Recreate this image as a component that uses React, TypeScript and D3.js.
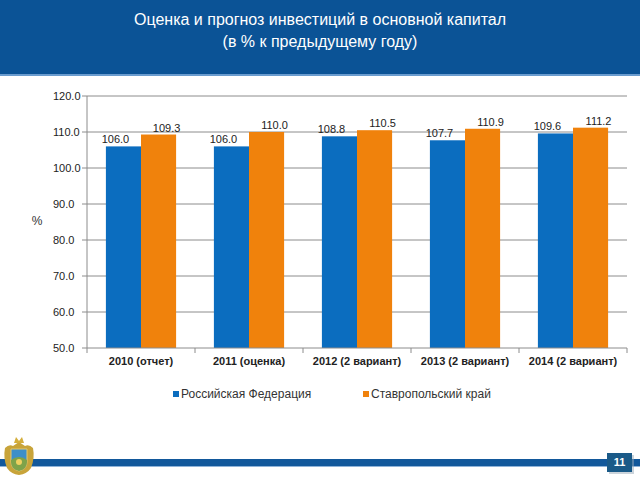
import { useEffect, useRef } from 'react'
import * as d3 from 'd3'

const titleLines = ['Оценка и прогноз инвестиций в основной капитал', '(в % к предыдущему году)']
const categories = ['2010 (отчет)', '2011 (оценка)', '2012 (2 вариант)', '2013 (2 вариант)', '2014 (2 вариант)']
const seriesNames = ['Российская Федерация', 'Ставропольский край']
const russiaValues = [106.0, 106.0, 108.8, 107.7, 109.6]
const stavropolValues = [109.3, 110.0, 110.5, 110.9, 111.2]
const yTicks = [50, 60, 70, 80, 90, 100, 110, 120]
const yUnit = '%'
const pageNumber = '11'

const FONT = '"Liberation Sans", Arial, sans-serif'
const colors = ['#0b6dbf', '#f0820c']

export default function App() {
  const svgRef = useRef<SVGSVGElement>(null)

  useEffect(() => {
    if (!svgRef.current) return
    document.body.style.margin = '0'

    const width = 640
    const height = 480
    const svg = d3.select(svgRef.current)
    svg.selectAll('*').remove()
    svg.attr('width', width).attr('height', height).style('font-family', FONT)

    svg.append('rect').attr('width', width).attr('height', height).attr('fill', '#ffffff')

    // header band
    svg.append('rect').attr('x', 0).attr('y', 0).attr('width', width).attr('height', 74).attr('fill', '#0b5396')
    svg.append('rect').attr('x', 0).attr('y', 74).attr('width', width).attr('height', 2).attr('fill', '#6a9ccf')

    svg.append('g')
      .selectAll('text')
      .data(titleLines)
      .enter().append('text')
      .attr('x', 320)
      .attr('y', (d, i) => 25 + i * 22)
      .attr('text-anchor', 'middle')
      .style('font-size', '16px')
      .style('fill', '#ffffff')
      .text(d => d)

    // chart
    const left = 87
    const right = 627
    const top = 96
    const bottom = 348

    const y = d3.scaleLinear().domain([50, 120]).range([bottom, top])
    const x0 = d3.scaleBand<string>()
      .domain(categories)
      .range([left, right])
      .paddingInner(0.35)
      .paddingOuter(0.175)
    const x1 = d3.scaleBand<string>()
      .domain(seriesNames)
      .range([0, x0.bandwidth()])
    const step = x0.step()

    const g = svg.append('g')

    // gridlines
    g.selectAll('.grid')
      .data(yTicks.filter(t => t > 50))
      .enter().append('line')
      .attr('class', 'grid')
      .attr('x1', left)
      .attr('x2', right)
      .attr('y1', d => y(d))
      .attr('y2', d => y(d))
      .style('stroke', '#8c8c8c')
      .style('stroke-width', 1)

    // y axis line + ticks
    g.append('line')
      .attr('x1', left).attr('x2', left)
      .attr('y1', top).attr('y2', bottom)
      .style('stroke', '#8c8c8c')
    g.selectAll('.ytick')
      .data(yTicks)
      .enter().append('line')
      .attr('x1', left - 5).attr('x2', left)
      .attr('y1', d => y(d)).attr('y2', d => y(d))
      .style('stroke', '#8c8c8c')
    g.selectAll('.ylabel')
      .data(yTicks)
      .enter().append('text')
      .attr('x', 53)
      .attr('y', d => y(d))
      .attr('dy', '0.35em')
      .style('font-size', '11px')
      .style('fill', '#222222')
      .text(d => d.toFixed(1))

    g.append('text')
      .attr('x', 37)
      .attr('y', 221)
      .attr('dy', '0.35em')
      .attr('text-anchor', 'middle')
      .style('font-size', '12px')
      .style('fill', '#333333')
      .text(yUnit)

    // bars
    const seriesValues = [russiaValues, stavropolValues]
    seriesNames.forEach((name, s) => {
      const values = seriesValues[s]
      g.selectAll(`.bar-${s}`)
        .data(categories)
        .enter().append('rect')
        .attr('x', c => (x0(c) ?? 0) + (x1(name) ?? 0))
        .attr('y', (c, i) => y(values[i]))
        .attr('width', x1.bandwidth())
        .attr('height', (c, i) => bottom - y(values[i]))
        .style('fill', colors[s])

      g.selectAll(`.label-${s}`)
        .data(categories)
        .enter().append('text')
        .attr('x', c => (x0(c) ?? 0) + (x1(name) ?? 0) + x1.bandwidth() / 2 + (s === 0 ? -8 : 8))
        .attr('y', (c, i) => y(values[i]) - 3)
        .attr('text-anchor', 'middle')
        .style('font-size', '11px')
        .style('fill', '#222222')
        .text((c, i) => values[i].toFixed(1))
    })

    // x axis line + ticks
    g.append('line')
      .attr('x1', left).attr('x2', right)
      .attr('y1', bottom).attr('y2', bottom)
      .style('stroke', '#8c8c8c')
    g.selectAll('.xtick')
      .data(d3.range(categories.length + 1))
      .enter().append('line')
      .attr('x1', i => left + i * step)
      .attr('x2', i => left + i * step)
      .attr('y1', bottom).attr('y2', bottom + 5)
      .style('stroke', '#8c8c8c')
    g.selectAll('.xlabel')
      .data(categories)
      .enter().append('text')
      .attr('x', c => (x0(c) ?? 0) + x0.bandwidth() / 2)
      .attr('y', 365)
      .attr('text-anchor', 'middle')
      .style('font-size', '11px')
      .style('font-weight', 'bold')
      .style('fill', '#222222')
      .text(d => d)

    // legend
    const legendX = [173, 363]
    seriesNames.forEach((name, s) => {
      g.append('rect')
        .attr('x', legendX[s]).attr('y', 391)
        .attr('width', 6).attr('height', 6)
        .style('fill', colors[s])
      g.append('text')
        .attr('x', legendX[s] + 8).attr('y', 394)
        .attr('dy', '0.35em')
        .style('font-size', '12px')
        .style('fill', '#333333')
        .text(name)
    })

    // footer line
    svg.append('rect').attr('x', 0).attr('y', 459).attr('width', width).attr('height', 7).attr('fill', '#12589b')
    svg.append('rect').attr('x', 0).attr('y', 466).attr('width', width).attr('height', 1).attr('fill', '#8fb3d8')

    // page number box
    svg.append('rect').attr('x', 609).attr('y', 455).attr('width', 25).attr('height', 19).attr('fill', '#9aa9b8').attr('opacity', 0.5)
    svg.append('rect').attr('x', 607).attr('y', 453).attr('width', 25).attr('height', 19).attr('fill', '#1a5a88')
    svg.append('text')
      .attr('x', 619.5).attr('y', 462.5)
      .attr('dy', '0.35em')
      .attr('text-anchor', 'middle')
      .style('font-size', '11px')
      .style('font-weight', 'bold')
      .style('fill', '#ffffff')
      .text(pageNumber)

    // emblem
    const em = svg.append('g').attr('transform', 'translate(19,458)')
    em.append('path')
      .attr('d', 'M-14,-10 Q-16,0 -12,10 Q-8,16 0,17 Q8,16 12,10 Q16,0 14,-10 Q10,-14 6,-12 L0,-16 L-6,-12 Q-10,-14 -14,-10 Z')
      .attr('fill', '#c8a43a')
    em.append('path')
      .attr('d', 'M-8,-9 L8,-9 L8,4 Q8,11 0,13 Q-8,11 -8,4 Z')
      .attr('fill', '#3d8fc9')
      .attr('stroke', '#e3c870')
      .attr('stroke-width', 1)
    em.append('path')
      .attr('d', 'M-8,2 Q0,-4 8,2 L8,4 Q8,11 0,13 Q-8,11 -8,4 Z')
      .attr('fill', '#7fa349')
    em.append('circle').attr('cx', 0).attr('cy', 4).attr('r', 3).attr('fill', '#efd060')
    em.append('path')
      .attr('d', 'M-5,-15 L-3,-21 L0,-17 L3,-21 L5,-15 Z')
      .attr('fill', '#d4ae3c')
  }, [])

  return (
    <div style={{ width: 640, height: 480 }}>
      <svg ref={svgRef} style={{ display: 'block' }}></svg>
    </div>
  )
}
